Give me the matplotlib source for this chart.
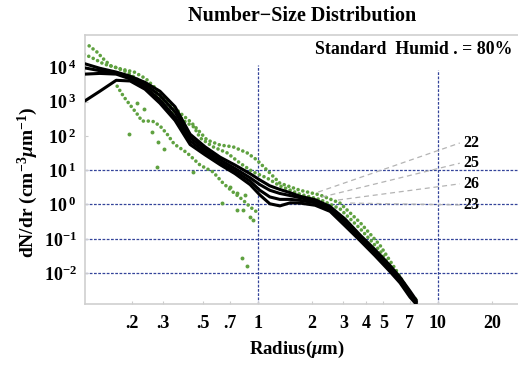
import matplotlib
matplotlib.use("Agg")
import matplotlib.pyplot as plt
from matplotlib.ticker import FixedLocator, FixedFormatter, NullLocator

plt.rcParams['font.family'] = 'Liberation Serif'
plt.rcParams['font.weight'] = 'bold'
plt.rcParams['mathtext.fontset'] = 'custom'
plt.rcParams['mathtext.rm'] = 'Liberation Serif:bold'
plt.rcParams['mathtext.it'] = 'Liberation Serif:italic:bold'
plt.rcParams['mathtext.bf'] = 'Liberation Serif:bold'

# radius grid of the fitted (black) curves, um
radius = [0.11, 0.133, 0.164, 0.196, 0.237, 0.287, 0.348, 0.422, 0.511, 0.619,
          0.75, 0.909, 1.03, 1.17, 1.33, 1.52, 1.72, 2.09, 2.53, 3.06,
          3.71, 4.5, 5.45, 6.19, 7.03, 7.6]

fit_22 = [12600, 9330, 7240, 5500, 3630, 2000, 708, 112, 48, 24,
          14.1, 7.9, 5.2, 3.5, 2.75, 2.2, 1.74, 1.38, 0.87, 0.38,
          0.13, 0.048, 0.0166, 0.0076, 0.003, 0.00166]
fit_25 = [9550, 7940, 6610, 5010, 3160, 1510, 501, 89, 40, 20,
          11.2, 6.0, 3.8, 2.6, 2.1, 1.82, 1.58, 1.26, 0.79, 0.33,
          0.115, 0.042, 0.0145, 0.0069, 0.0026, 0.0015]
fit_26 = [6310, 6610, 6310, 4570, 2630, 1120, 355, 71, 33, 16.6,
          9.3, 4.8, 2.6, 1.66, 1.41, 1.41, 1.32, 1.12, 0.71, 0.28,
          0.10, 0.036, 0.0126, 0.006, 0.0023, 0.00138]
fit_23 = [1050, 2000, 4170, 3980, 2290, 891, 282, 56, 28, 14.5,
          7.9, 3.8, 1.9, 1.05, 0.91, 1.12, 1.10, 0.95, 0.63, 0.24,
          0.089, 0.032, 0.011, 0.0052, 0.002, 0.00126]

# measured (green) distributions
meas_1_r = [0.116, 0.128, 0.140, 0.153, 0.174, 0.206, 0.240, 0.266, 0.314, 0.376,
            0.427, 0.524, 0.619, 0.731, 0.875, 0.99, 1.13, 1.33, 1.72, 2.22,
            2.87, 3.71, 4.79, 5.96, 7.04, 7.69]
meas_1_n = [42000, 28000, 17000, 11000, 8900, 7300, 4600, 2700, 1050, 440,
            250, 76, 54, 48, 32, 20, 10, 4.2, 2.6, 1.9,
            1.1, 0.3, 0.065, 0.011, 0.0025, 0.0016]

meas_2_r = [0.109, 0.124, 0.140, 0.160, 0.188, 0.206, 0.243, 0.277, 0.331, 0.391,
            0.444, 0.480, 0.566, 0.677, 0.800, 0.944, 1.13, 1.33, 1.72, 2.22,
            2.87, 3.71, 4.79, 5.96, 7.21]
meas_2_n = [24000, 17500, 12400, 10200, 7300, 5200, 2800, 1450, 610, 270,
            180, 87, 48, 32, 16, 8.9, 5.9, 3.5, 2.0, 1.4,
            0.75, 0.2, 0.045, 0.0075, 0.0018]

meas_3_r = [0.166, 0.181, 0.198, 0.214, 0.228, 0.249, 0.266, 0.291, 0.314, 0.344,
            0.406, 0.480, 0.566, 0.643, 0.731, 0.830, 0.909, 0.993]
meas_3_n = [2800, 1360, 740, 440, 270, 270, 260, 180, 114, 58,
            32, 14, 8.9, 4.2, 2.3, 1.35, 0.85, 0.6]

# isolated measured points
stray_r = [0.193, 0.26, 0.28, 0.303, 0.277, 0.44, 0.636, 0.70, 0.77, 0.77,
           0.83, 0.85, 0.91, 0.94, 0.82, 0.875, 0.215, 0.235]
stray_n = [114, 130, 66, 41, 12.4, 8.9, 1.1, 3.2, 2.2, 0.69,
           0.69, 1.9, 0.43, 0.35, 0.027, 0.016, 900, 600]

# run labels and their leader lines (start on curves, end at label)
run_labels = ['22', '25', '26', '23']
leader_r0 = [2.17, 2.28, 2.80, 3.27]
leader_n0 = [2.3, 1.65, 1.35, 1.1]
leader_r1 = 13.3
leader_n1 = [62, 16, 4.0, 0.97]
label_r = 13.9

grid_n = [10, 1, 0.1, 0.01]
xticks = [0.2, 0.3, 0.5, 0.7, 1, 2, 3, 4, 5, 7, 10, 20]
xtick_labels = ['.2', '.3', '.5', '.7', '1', '2', '3', '4', '5', '7', '10', '20']
yticks = [1e4, 1e3, 1e2, 1e1, 1e0, 1e-1, 1e-2]
ytick_labels = [r'$10^{\;4}$', r'$10^{\;3}$', r'$10^{\;2}$', r'$10^{\;1}$',
                r'$10^{\;0}$', r'$10^{-1}$', r'$10^{-2}$']

fig = plt.figure(figsize=(5.18, 3.65), dpi=100)
ax = fig.add_axes([85 / 518, 61 / 365, 433 / 518, 269 / 365])
ax.set_xscale('log')
ax.set_yscale('log')
ax.set_xlim(0.11, 28)
ax.set_ylim(10 ** -2.9, 10 ** 4.94)

green = '#5fa140'
grid_c = '#34449a'

for v in grid_n:
    ax.axhline(v, color=grid_c, lw=0.9, ls=(0, (2.2, 1.2)), zorder=1)
ax.vlines(1, ax.get_ylim()[0], 1.15e4, color=grid_c, lw=0.9, ls=(0, (2.2, 1.2)), zorder=1)
ax.vlines(10, ax.get_ylim()[0], 8.5e3, color=grid_c, lw=0.9, ls=(0, (2.2, 1.2)), zorder=1)

for r, n in [(meas_1_r, meas_1_n), (meas_2_r, meas_2_n), (meas_3_r, meas_3_n)]:
    ax.plot(r, n, color=green, lw=2.6, ls=(0, (0.01, 1.35)),
            dash_capstyle='round', zorder=2)
ax.scatter(stray_r, stray_n, s=8, color=green, lw=0, zorder=2)

for n in [fit_22, fit_25, fit_26, fit_23]:
    ax.plot(radius, n, color='black', lw=2.2, zorder=3)

for lab, r0, n0, n1 in zip(run_labels, leader_r0, leader_n0, leader_n1):
    ax.plot([r0, leader_r1], [n0, n1], color='#b4b4b4', lw=0.9,
            ls=(0, (4, 3)), zorder=2)
    ax.text(label_r, n1, lab, fontsize=11.5, ha='left', va='center', zorder=4)

ax.text(0.988, 0.945, 'Standard  Humid . = 80%', transform=ax.transAxes,
        fontsize=12.8, ha='right', va='center')

ax.xaxis.set_major_locator(FixedLocator(xticks))
ax.xaxis.set_major_formatter(FixedFormatter(xtick_labels))
ax.xaxis.set_minor_locator(NullLocator())
ax.yaxis.set_major_locator(FixedLocator(yticks))
ax.yaxis.set_major_formatter(FixedFormatter(ytick_labels))
ax.yaxis.set_minor_locator(NullLocator())
ax.tick_params(axis='x', labelsize=13, length=2, color='#cccccc', pad=8, direction='in')
ax.tick_params(axis='y', labelsize=13, length=2, color='#cccccc', pad=6, direction='in')

for s in ['left', 'top', 'bottom']:
    ax.spines[s].set_color('#cfcfcf')
    ax.spines[s].set_linewidth(1.2)
ax.spines['right'].set_visible(False)

fig.text(302 / 518, 1 - 16 / 365, 'Number\u2212Size Distribution',
         fontsize=14.5, ha='center', va='center')
fig.text(28 / 518, 1 - 182 / 365, r'dN/dr (cm$^{-3}\mu$m$^{-1}$)',
         fontsize=14, ha='center', va='center', rotation=90)
fig.text(297 / 518, 1 - 349 / 365, r'Radius($\mu$m)',
         fontsize=13.5, ha='center', va='center')

fig.savefig('out.png', dpi=100)
